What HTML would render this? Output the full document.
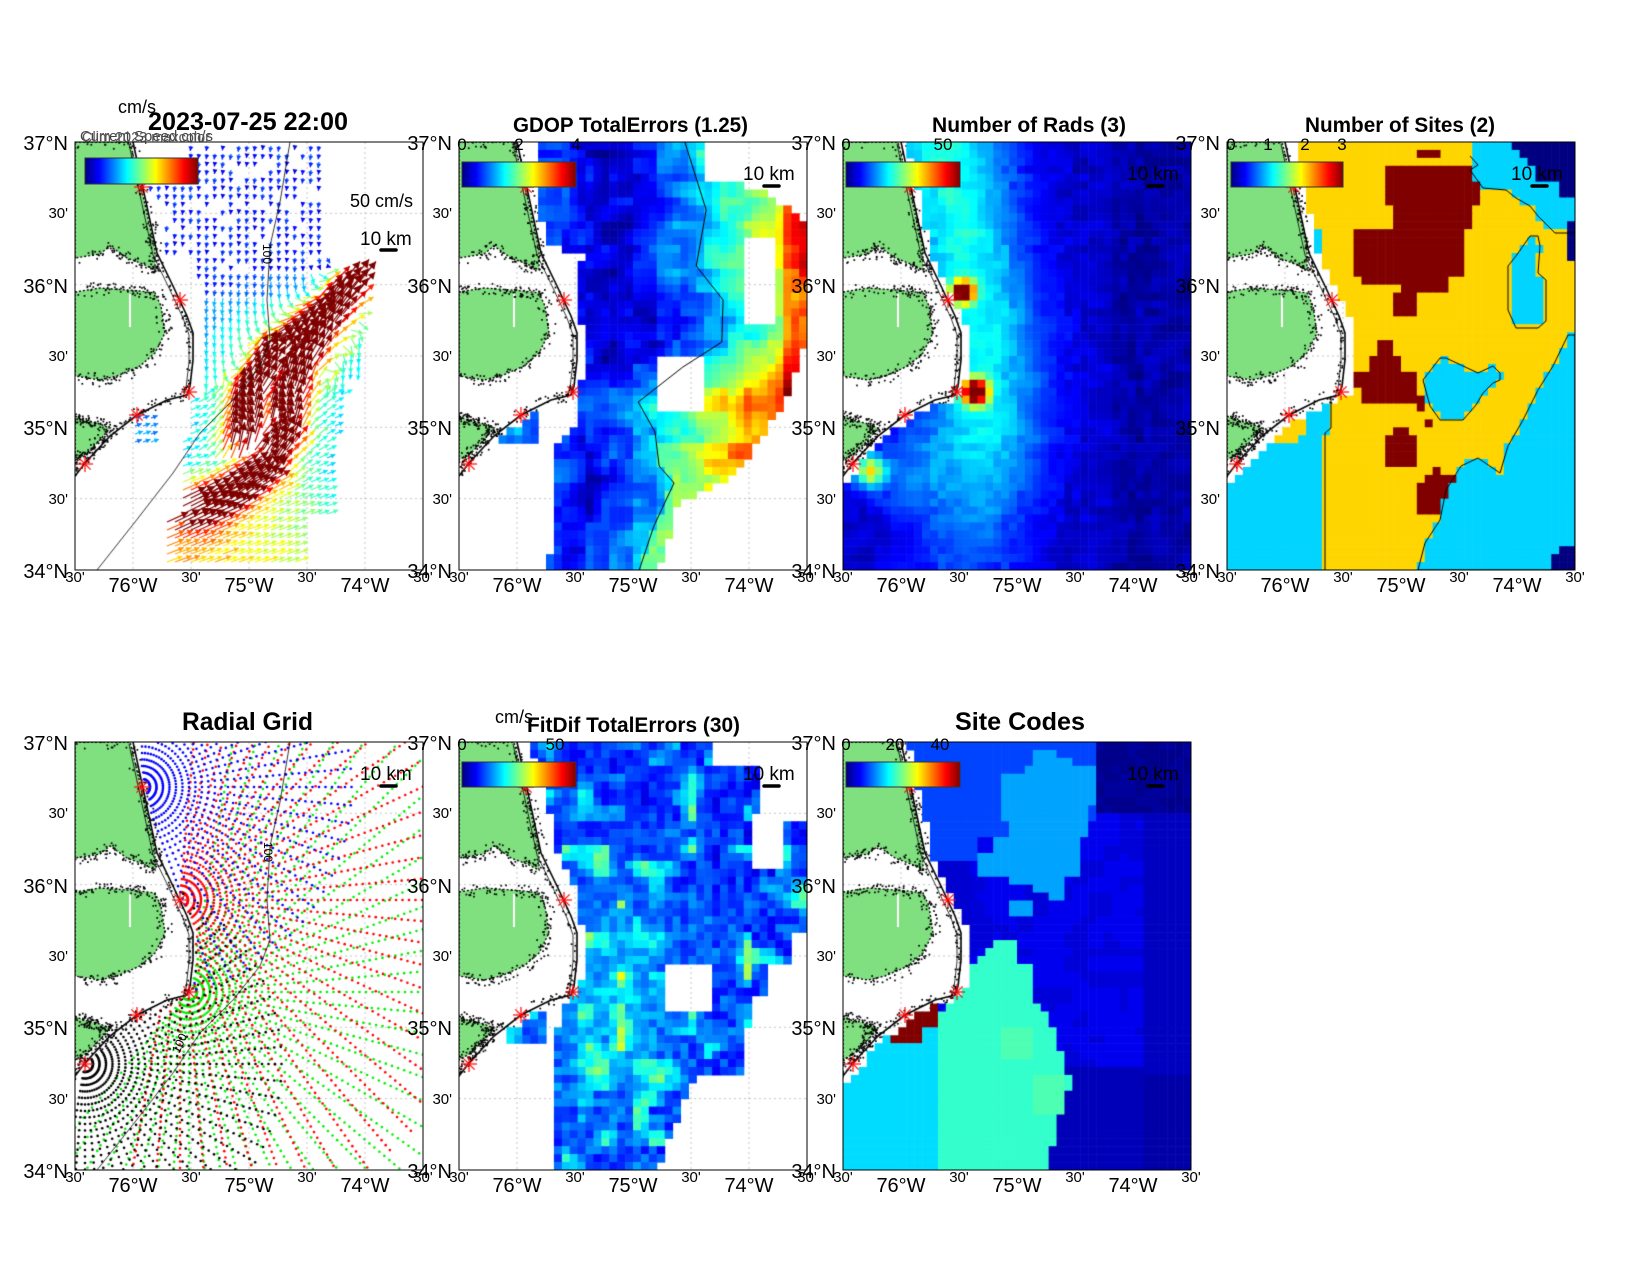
<!DOCTYPE html>
<html><head><meta charset="utf-8">
<style>
body{margin:0;background:#fff;width:1650px;height:1275px;overflow:hidden;position:relative}
canvas,svg{position:absolute;left:0;top:0}
text{font-family:"Liberation Sans",Arial,sans-serif;fill:#000}
.b{font-size:20px}
.s{font-size:15px}
.e{text-anchor:end}
.m{text-anchor:middle}
.t{font-weight:bold}
.cb{font-size:17px;text-anchor:middle}
</style></head><body>
<canvas id="c" width="1650" height="1275"></canvas>
<svg width="1650" height="1275" viewBox="0 0 1650 1275">
<defs>
<linearGradient id="jet" x1="0" x2="1" y1="0" y2="0">
<stop offset="0" stop-color="#000080"/><stop offset="0.125" stop-color="#0000ff"/><stop offset="0.375" stop-color="#00ffff"/><stop offset="0.625" stop-color="#ffff00"/><stop offset="0.875" stop-color="#ff0000"/><stop offset="1" stop-color="#800000"/>
</linearGradient>
</defs>

<g transform="translate(75,142)">
<rect x="0" y="0" width="348" height="428" fill="none" stroke="#000" stroke-width="1"/>
<rect x="10" y="16" width="113" height="26" fill="url(#jet)" stroke="#333" stroke-width="1"/>
<text x="-7" y="8" class="b e">37°N</text><text x="-7" y="76" class="s e">30'</text><text x="-7" y="151" class="b e">36°N</text><text x="-7" y="219" class="s e">30'</text><text x="-7" y="293" class="b e">35°N</text><text x="-7" y="362" class="s e">30'</text><text x="-7" y="436" class="b e">34°N</text>
<text x="0" y="440" class="s m">30'</text><text x="58" y="450" class="b m">76°W</text><text x="116" y="440" class="s m">30'</text><text x="174" y="450" class="b m">75°W</text><text x="232" y="440" class="s m">30'</text><text x="290" y="450" class="b m">74°W</text><text x="348" y="440" class="s m">30'</text>
<text x="275" y="65" font-size="18">50 cm/s</text>
<text x="285" y="103" font-size="19">10 km</text>
<line x1="306" y1="108" x2="321" y2="108" stroke="#000" stroke-width="3.5" stroke-linecap="round"/>
<text x="0" y="0" font-size="12" transform="translate(188,102) rotate(90)">100</text>
</g>
<text x="80" y="141" font-size="15" textLength="133" lengthAdjust="spacingAndGlyphs" style="fill:#444">Current Speed cm/s</text>
<text x="82" y="142" font-size="15" textLength="128" lengthAdjust="spacingAndGlyphs" style="fill:#555">Clim 2023 maxcolor</text>
<text x="118" y="113" font-size="18">cm/s</text>
<text x="148" y="130" font-size="25" class="t" textLength="200" lengthAdjust="spacingAndGlyphs">2023-07-25 22:00</text>

<g transform="translate(459,142)">
<rect x="0" y="0" width="348" height="428" fill="none" stroke="#000" stroke-width="1"/>
<rect x="3" y="20" width="114" height="25" fill="url(#jet)" stroke="#333" stroke-width="1"/>
<text x="3" y="8" class="cb">0</text><text x="60" y="8" class="cb">2</text><text x="117" y="8" class="cb">4</text>
<text x="-7" y="8" class="b e">37°N</text><text x="-7" y="76" class="s e">30'</text><text x="-7" y="151" class="b e">36°N</text><text x="-7" y="219" class="s e">30'</text><text x="-7" y="293" class="b e">35°N</text><text x="-7" y="362" class="s e">30'</text><text x="-7" y="436" class="b e">34°N</text>
<text x="0" y="440" class="s m">30'</text><text x="58" y="450" class="b m">76°W</text><text x="116" y="440" class="s m">30'</text><text x="174" y="450" class="b m">75°W</text><text x="232" y="440" class="s m">30'</text><text x="290" y="450" class="b m">74°W</text><text x="348" y="440" class="s m">30'</text>
<text x="284" y="38" font-size="19">10 km</text>
<line x1="305" y1="44" x2="320" y2="44" stroke="#000" stroke-width="3.5" stroke-linecap="round"/>
</g>
<text x="513" y="132" font-size="21" class="t" textLength="235" lengthAdjust="spacingAndGlyphs">GDOP TotalErrors (1.25)</text>

<g transform="translate(843,142)">
<rect x="0" y="0" width="348" height="428" fill="none" stroke="#000" stroke-width="1"/>
<rect x="3" y="20" width="114" height="25" fill="url(#jet)" stroke="#333" stroke-width="1"/>
<text x="3" y="8" class="cb">0</text><text x="100" y="8" class="cb">50</text>
<text x="-7" y="8" class="b e">37°N</text><text x="-7" y="76" class="s e">30'</text><text x="-7" y="151" class="b e">36°N</text><text x="-7" y="219" class="s e">30'</text><text x="-7" y="293" class="b e">35°N</text><text x="-7" y="362" class="s e">30'</text><text x="-7" y="436" class="b e">34°N</text>
<text x="0" y="440" class="s m">30'</text><text x="58" y="450" class="b m">76°W</text><text x="116" y="440" class="s m">30'</text><text x="174" y="450" class="b m">75°W</text><text x="232" y="440" class="s m">30'</text><text x="290" y="450" class="b m">74°W</text><text x="348" y="440" class="s m">30'</text>
<text x="284" y="38" font-size="19">10 km</text>
<line x1="305" y1="44" x2="320" y2="44" stroke="#000" stroke-width="3.5" stroke-linecap="round"/>
</g>
<text x="932" y="132" font-size="21" class="t" textLength="194" lengthAdjust="spacingAndGlyphs">Number of Rads (3)</text>

<g transform="translate(1227,142)">
<rect x="0" y="0" width="348" height="428" fill="none" stroke="#000" stroke-width="1"/>
<rect x="4" y="20" width="112" height="25" fill="url(#jet)" stroke="#333" stroke-width="1"/>
<text x="4" y="8" class="cb">0</text><text x="41" y="8" class="cb">1</text><text x="78" y="8" class="cb">2</text><text x="115" y="8" class="cb">3</text>
<text x="-7" y="8" class="b e">37°N</text><text x="-7" y="76" class="s e">30'</text><text x="-7" y="151" class="b e">36°N</text><text x="-7" y="219" class="s e">30'</text><text x="-7" y="293" class="b e">35°N</text><text x="-7" y="362" class="s e">30'</text><text x="-7" y="436" class="b e">34°N</text>
<text x="0" y="440" class="s m">30'</text><text x="58" y="450" class="b m">76°W</text><text x="116" y="440" class="s m">30'</text><text x="174" y="450" class="b m">75°W</text><text x="232" y="440" class="s m">30'</text><text x="290" y="450" class="b m">74°W</text><text x="348" y="440" class="s m">30'</text>
<text x="284" y="38" font-size="19">10 km</text>
<line x1="305" y1="44" x2="320" y2="44" stroke="#000" stroke-width="3.5" stroke-linecap="round"/>
</g>
<text x="1305" y="132" font-size="21" class="t" textLength="190" lengthAdjust="spacingAndGlyphs">Number of Sites (2)</text>

<g transform="translate(75,742)">
<rect x="0" y="0" width="348" height="428" fill="none" stroke="#000" stroke-width="1"/>
<text x="-7" y="8" class="b e">37°N</text><text x="-7" y="76" class="s e">30'</text><text x="-7" y="151" class="b e">36°N</text><text x="-7" y="219" class="s e">30'</text><text x="-7" y="293" class="b e">35°N</text><text x="-7" y="362" class="s e">30'</text><text x="-7" y="436" class="b e">34°N</text>
<text x="0" y="440" class="s m">30'</text><text x="58" y="450" class="b m">76°W</text><text x="116" y="440" class="s m">30'</text><text x="174" y="450" class="b m">75°W</text><text x="232" y="440" class="s m">30'</text><text x="290" y="450" class="b m">74°W</text><text x="348" y="440" class="s m">30'</text>
<text x="285" y="38" font-size="19">10 km</text>
<line x1="306" y1="44" x2="321" y2="44" stroke="#000" stroke-width="3.5" stroke-linecap="round"/>
<text x="0" y="0" font-size="12" transform="translate(189,100) rotate(90)">100</text>
<text x="0" y="0" font-size="12" transform="translate(104,312) rotate(-65)">100</text>
</g>
<text x="182" y="730" font-size="25" class="t" textLength="131" lengthAdjust="spacingAndGlyphs">Radial Grid</text>

<g transform="translate(459,742)">
<rect x="0" y="0" width="348" height="428" fill="none" stroke="#000" stroke-width="1"/>
<rect x="3" y="20" width="114" height="25" fill="url(#jet)" stroke="#333" stroke-width="1"/>
<text x="3" y="8" class="cb">0</text><text x="96" y="8" class="cb">50</text>
<text x="-7" y="8" class="b e">37°N</text><text x="-7" y="76" class="s e">30'</text><text x="-7" y="151" class="b e">36°N</text><text x="-7" y="219" class="s e">30'</text><text x="-7" y="293" class="b e">35°N</text><text x="-7" y="362" class="s e">30'</text><text x="-7" y="436" class="b e">34°N</text>
<text x="0" y="440" class="s m">30'</text><text x="58" y="450" class="b m">76°W</text><text x="116" y="440" class="s m">30'</text><text x="174" y="450" class="b m">75°W</text><text x="232" y="440" class="s m">30'</text><text x="290" y="450" class="b m">74°W</text><text x="348" y="440" class="s m">30'</text>
<text x="284" y="38" font-size="19">10 km</text>
<line x1="305" y1="44" x2="320" y2="44" stroke="#000" stroke-width="3.5" stroke-linecap="round"/>
</g>
<text x="495" y="723" font-size="18">cm/s</text>
<text x="527" y="732" font-size="21" class="t" textLength="213" lengthAdjust="spacingAndGlyphs">FitDif TotalErrors (30)</text>

<g transform="translate(843,742)">
<rect x="0" y="0" width="348" height="428" fill="none" stroke="#000" stroke-width="1"/>
<rect x="3" y="20" width="114" height="25" fill="url(#jet)" stroke="#333" stroke-width="1"/>
<text x="3" y="8" class="cb">0</text><text x="52" y="8" class="cb">20</text><text x="97" y="8" class="cb">40</text>
<text x="-7" y="8" class="b e">37°N</text><text x="-7" y="76" class="s e">30'</text><text x="-7" y="151" class="b e">36°N</text><text x="-7" y="219" class="s e">30'</text><text x="-7" y="293" class="b e">35°N</text><text x="-7" y="362" class="s e">30'</text><text x="-7" y="436" class="b e">34°N</text>
<text x="0" y="440" class="s m">30'</text><text x="58" y="450" class="b m">76°W</text><text x="116" y="440" class="s m">30'</text><text x="174" y="450" class="b m">75°W</text><text x="232" y="440" class="s m">30'</text><text x="290" y="450" class="b m">74°W</text><text x="348" y="440" class="s m">30'</text>
<text x="284" y="38" font-size="19">10 km</text>
<line x1="305" y1="44" x2="320" y2="44" stroke="#000" stroke-width="3.5" stroke-linecap="round"/>
</g>
<text x="955" y="730" font-size="25" class="t" textLength="130" lengthAdjust="spacingAndGlyphs">Site Codes</text>
</svg>

<script>
const cv=document.getElementById('c'),ctx=cv.getContext('2d');
const W=348,H=428;
function rng(seed){return function(){seed|=0;seed=seed+0x6D2B79F5|0;let t=Math.imul(seed^seed>>>15,1|seed);t=t+Math.imul(t^t>>>7,61|t)^t;return((t^t>>>14)>>>0)/4294967296}}
function hash(i,j,s){let h=Math.sin(i*127.1+j*311.7+s*74.7)*43758.5453;return h-Math.floor(h)}
function noise(x,y,s){const i=Math.floor(x),j=Math.floor(y),fx=x-i,fy=y-j;const u=fx*fx*(3-2*fx),v=fy*fy*(3-2*fy);const a=hash(i,j,s),b=hash(i+1,j,s),c=hash(i,j+1,s),d=hash(i+1,j+1,s);return a+(b-a)*u+(c-a)*v+(a-b-c+d)*u*v}
function jet(t){t=Math.max(0,Math.min(1,t));const f=v=>Math.round(255*Math.max(0,Math.min(1,v)));return `rgb(${f(1.5-Math.abs(4*t-3))},${f(1.5-Math.abs(4*t-2))},${f(1.5-Math.abs(4*t-1))})`}
function interp(xs,ys,x){if(x<=xs[0])return ys[0];for(let i=1;i<xs.length;i++){if(x<=xs[i]){const d=xs[i]-xs[i-1];const t=d?(x-xs[i-1])/d:1;return ys[i-1]+t*(ys[i]-ys[i-1])}}return ys[ys.length-1]}
function pip(p,x,y){let c=false;for(let i=0,j=p.length-1;i<p.length;j=i++){const xi=p[i][0],yi=p[i][1],xj=p[j][0],yj=p[j][1];if(((yi>y)!=(yj>y))&&(x<(xj-xi)*(y-yi)/(yj-yi)+xi))c=!c;}return c}
function inRects(rs,x,y){return rs.some(r=>x>=r[0]&&x<r[0]+r[2]&&y>=r[1]&&y<r[1]+r[3])}
function poly(pts){ctx.beginPath();pts.forEach((p,i)=>i?ctx.lineTo(p[0],p[1]):ctx.moveTo(p[0],p[1]));ctx.closePath();}
function pline(pts){ctx.beginPath();pts.forEach((p,i)=>i?ctx.lineTo(p[0],p[1]):ctx.moveTo(p[0],p[1]));}

const coastN=[[58,0],[82,111],[98,144],[112,174],[118,191],[118,218],[115,244],[112,253]];
const coastS=[[112,253],[92,258],[62,273],[35,294],[10,321],[0,334]];
const cNy=coastN.map(p=>p[1]),cNx=coastN.map(p=>p[0]);
const cSr=coastS.slice().reverse(),cSx=cSr.map(p=>p[0]),cSy=cSr.map(p=>p[1]);
function isSea(x,y){if(y<253)return x>interp(cNy,cNx,y)+1;if(x>=112)return true;return y>interp(cSx,cSy,x)+1}
function off(x,y){return isSea(x-6,y-2)}

const landN=[[0,0],[55,0],[66,45],[74,80],[80,108],[80,128],[68,122],[52,116],[35,104],[25,112],[0,116]];
const landM=[[0,150],[25,146],[52,148],[65,149],[80,151],[86,164],[90,191],[80,211],[65,224],[42,234],[25,238],[0,234]];
const landS=[[0,274],[8,278],[22,281],[35,286],[25,298],[12,311],[0,318]];
const sites=[[67,45],[105,158],[114,250],[62,273],[10,322]];
const bathy=[[215,0],[205,60],[195,104],[192,158],[195,198],[185,224],[158,258],[125,291],[98,331],[60,380],[22,428]];

function grid(){ctx.strokeStyle='#c4c4c4';ctx.lineWidth=1;ctx.setLineDash([2,3]);for(let k=1;k<6;k++){ctx.beginPath();ctx.moveTo(58*k,0);ctx.lineTo(58*k,H);ctx.stroke();ctx.beginPath();ctx.moveTo(0,H/6*k);ctx.lineTo(W,H/6*k);ctx.stroke();}ctx.setLineDash([]);}
function land(seed){
 ctx.fillStyle='rgb(128,224,128)';[landN,landM,landS].forEach(p=>{poly(p);ctx.fill();});
 ctx.strokeStyle='#000';ctx.lineWidth=1.4;ctx.setLineDash([2,2]);[landN,landM,landS].forEach(p=>{poly(p);ctx.stroke();});ctx.setLineDash([]);
 ctx.strokeStyle='#fff';ctx.lineWidth=2;pline([[55,152],[55,185]]);ctx.stroke();
 const r=rng(seed);ctx.fillStyle='#000';
 [landN,landM,landS,coastN,coastS].forEach((p,pi)=>{const n=pi<3?160:70;for(let k=0;k<n;k++){const i=Math.floor(r()*(p.length-1));const a=p[i],b=p[i+1],t=r();const x=a[0]+(b[0]-a[0])*t+(r()-0.5)*(pi<3?14:6)-(pi>=3?4:0),y=a[1]+(b[1]-a[1])*t+(r()-0.5)*12;ctx.fillRect(x,y,1.7,1.7);}});
}
function coast(){ctx.strokeStyle='#000';ctx.lineWidth=1.6;pline(coastN.concat(coastS.slice(1)));ctx.stroke();
 ctx.lineWidth=0.8;pline(coastN.map(p=>[p[0]-4,p[1]+2]));ctx.stroke();}
function stars(){ctx.strokeStyle='#ff0000';ctx.lineWidth=1.2;sites.forEach(([x,y])=>{for(let a=0;a<4;a++){const an=a*Math.PI/4;ctx.beginPath();ctx.moveTo(x-8*Math.cos(an),y-8*Math.sin(an));ctx.lineTo(x+8*Math.cos(an),y+8*Math.sin(an));ctx.stroke();}});}
function bath(){ctx.strokeStyle='#000';ctx.lineWidth=0.8;pline(bathy);ctx.stroke();}
const CW=W/44,CH=H/54;
function heat(fn){for(let j=0;j<54;j++)for(let i=0;i<44;i++){const x=i*CW,y=j*CH;const c=fn(x+CW/2,y+CH/2);if(c){ctx.fillStyle=c;ctx.fillRect(x,y,CW+0.6,CH+0.6);}}}
function panel(ox,oy,f){ctx.save();ctx.translate(ox,oy);ctx.beginPath();ctx.rect(0,0,W,H);ctx.clip();f();ctx.restore();}

function arrow(x,y,dx,dy,L,col){const ex=x+dx*L,ey=y+dy*L;const hl=Math.max(4.5,L*0.28),hw=hl*0.55;ctx.strokeStyle=col;ctx.fillStyle=col;ctx.lineWidth=1.2;ctx.beginPath();ctx.moveTo(x,y);ctx.lineTo(ex,ey);ctx.stroke();const bx=ex-dx*hl,by=ey-dy*hl;ctx.beginPath();ctx.moveTo(ex,ey);ctx.lineTo(bx-dy*hw,by+dx*hw);ctx.lineTo(bx+dy*hw,by-dx*hw);ctx.closePath();ctx.fill();}
const gs=[[110,372],[150,352],[185,328],[205,295],[210,260],[222,222],[240,190],[260,160],[280,135]];
const gs2=[[165,300],[172,255],[195,215],[238,178]];
function near(pts,x,y){let best={d:1e9,tx:0,ty:-1};for(let i=0;i<pts.length-1;i++){const[ax,ay]=pts[i],[bx,by]=pts[i+1];const vx=bx-ax,vy=by-ay,l2=vx*vx+vy*vy;let t=((x-ax)*vx+(y-ay)*vy)/l2;t=Math.max(0,Math.min(1,t));const d=Math.hypot(x-ax-t*vx,y-ay-t*vy);if(d<best.d){const l=Math.sqrt(l2);best={d,tx:vx/l,ty:vy/l}}}return best}
function qmask(x,y){
 if(x>52&&x<80&&y>274&&y<301)return true;
 let l,r;
 if(y<60){l=72+(y<30?40:0);r=245}else if(y<110){l=90;r=248}else if(y<140){l=120;r=255}else if(y<260){l=125;r=(y<230?292:275)}else if(y<300){l=110;r=265}else if(y<380){l=100;r=258}else{l=88;r=225}
 return x>l&&x<r&&off(x,y);
}
function drawQuiver(){
 const arr=[];const r=rng(3);
 for(let y=4;y<H;y+=8)for(let x=4;x<W;x+=8){if(!qmask(x,y))continue;
  if(y<130&&r()<0.2)continue;
  const a=near(gs,x,y),b=near(gs2,x,y);const g=a.d<b.d?a:b;const d=g.d;
  let s=14+75*Math.exp(-d*d/(2*13*13))+25*Math.exp(-d*d/(2*40*40))+(r()-0.5)*8;
  if(y>150&&y<=330)s+=8;
  if(y>330)s+=10+30*(y-330)/100;
  if(y<130)s=8+r()*10;
  const w=Math.exp(-d*d/(2*25*25));let bx,by;
  if(y<250){bx=-0.15;by=1}else{bx=1;by=-0.35}
  let dx=w*g.tx+(1-w)*bx,dy=w*g.ty+(1-w)*by;const n=Math.hypot(dx,dy);dx/=n;dy/=n;
  arr.push([x,y,dx,dy,s]);}
 arr.sort((a,b)=>a[4]-b[4]);
 arr.forEach(([x,y,dx,dy,s])=>arrow(x,y,dx,dy,2+s*0.24,jet(s/90)));
 arrow(255,240,0.55,-0.83,14,jet(0.6));
}
panel(75,142,()=>{grid();land(11);drawQuiver();coast();bath();stars();});

const gcy=[0,68,124,158,200,225,260,290,324,341,384,428],gcx=[228,245,235,268,265,225,180,195,198,215,195,182];
function gdop(x,y){if(!off(x,y))return null;
 const l=interp([0,100,115,125,280,300,428],[75,85,125,118,118,97,90],y);
 const r=interp([0,40,45,80,200,250,300,330,360,428],[243,243,300,345,345,330,300,280,220,200],y);
 let ok=x>l&&x<r;if(x>42&&x<82&&y>270&&y<300)ok=true;
 if(x>198&&x<248&&y>215&&y<270)ok=false;if(x>288&&x<318&&y>98&&y<185)ok=false;
 if(!ok)return null;
 const cx=interp(gcy,gcx,y);let v=x>cx?1.3+(x-cx)*0.015:1.25-(cx-x)*0.012;v=Math.max(v,0.35);
 if(x<140)v+=0.35*(140-x)/40;
 if(y>300&&x>cx)v+=0.5;
 if(x>325)v+=0.6;
 v+=(noise(x/12,y/12,1)-0.5)*0.7;
 return jet(v/4);}
panel(459,142,()=>{grid();land(12);heat(gdop);ctx.strokeStyle='#000';ctx.lineWidth=1;pline(gcy.map((y,i)=>[gcx[i]+(noise(i,1,4)-0.5)*8,y]));ctx.stroke();coast();stars();});

function rads(x,y){if(!off(x,y))return null;
 const bx=interp([0,200,300,428],[100,140,140,125],y);const A=interp([0,300,428],[20,17,7],y);
 let v=4+A*Math.exp(-((x-bx)**2)/(2*45*45));
 v+=52*Math.exp(-((x-120)**2+(y-150)**2)/(2*8*8))+55*Math.exp(-((x-132)**2+(y-250)**2)/(2*9*9))+30*Math.exp(-((x-27)**2+(y-330)**2)/(2*11*11));
 v+=6*Math.exp(-((x-60)**2+(y-330)**2)/(2*30*30));
 v+=(noise(x/9,y/9,2)-0.5)*5;if(x>270)v-=1.5;
 return jet(v/59);}
panel(843,142,()=>{grid();land(13);heat(rads);coast();stars();});

const R3=[[189,7,25,10],[159,23,92,38],[166,61,77,30],[129,91,107,40],[136,131,83,15],[174,146,45,8],[168,154,22,24],
[151,201,16,15],[143,216,30,10],[129,226,60,20],[136,246,53,12],[144,256,30,8],[189,254,7,17],[196,278,8,8],
[167,286,15,8],[159,294,30,30],[205,324,10,8],[197,332,31,8],[189,340,31,29]];
const C1=[[89,254],[104,254],[104,286],[98,291],[98,428],[0,428],[0,338],[23,314],[38,301],[69,301],[76,291],[83,286],[83,269],[89,269]];
const C2=[[348,193],[341,193],[326,224],[311,248],[296,278],[281,304],[273,331],[251,316],[234,324],[219,348],[213,378],[198,401],[191,428],[348,428]];
const C3=[[196,238],[213,216],[219,216],[251,231],[266,224],[273,231],[273,238],[266,241],[256,251],[249,263],[236,278],[213,278],[203,264]];
const C4=[[289,114],[303,94],[311,94],[313,104],[311,131],[319,138],[319,179],[311,186],[289,186],[281,168],[281,124]];
const C5=[[243,0],[348,0],[348,91],[328,91],[311,74],[303,64],[289,56],[279,48],[256,46],[243,28],[251,23],[243,14]];
const NV=[[281,0],[348,0],[348,55],[336,55],[327,40],[311,40],[311,25],[295,15],[281,8]];
function sitesF(x,y){if(!isSea(x-9,y-2))return null;
 if(pip(NV,x,y)||inRects([[343,78,5,40],[336,401,12,27],[324,416,12,12]],x,y))return jet(0);
 if([C1,C2,C3,C4,C5].some(p=>pip(p,x,y))||inRects([[83,84,15,47],[119,188,9,36]],x,y))return jet(1/3);
 if(inRects(R3,x,y))return jet(1);
 return jet(2/3);}
panel(1227,142,()=>{grid();land(14);heat(sitesF);ctx.strokeStyle='#000';ctx.lineWidth=1;[C2,C3,C4].forEach(p=>{poly(p);ctx.stroke();});
 pline([[104,254],[104,286],[98,291],[98,428]]);ctx.stroke();pline([[243,14],[251,23],[243,28],[256,46],[279,48],[289,56],[303,64],[311,74],[328,91],[348,91]]);ctx.stroke();
 coast();stars();});

function radial(){
 const rs=[{c:[114,250],col:'#00ee00',a0:-80,a1:130,rmax:340},{c:[105,158],col:'#ff0000',a0:-85,a1:100,rmax:330},{c:[67,45],col:'#0000ff',a0:-90,a1:95,rmax:210},{c:[10,322],col:'#000',a0:-70,a1:100,rmax:200}];
 rs.forEach(s=>{ctx.fillStyle=s.col;for(let r=8;r<s.rmax;r+=6.5){for(let a=s.a0;a<=s.a1;a+=5){const an=a*Math.PI/180;const x=s.c[0]+r*Math.cos(an),y=s.c[1]+r*Math.sin(an);if(x<0||x>W||y<0||y>H)continue;if(!isSea(x-2,y))continue;ctx.beginPath();ctx.arc(x,y,1.3,0,6.283);ctx.fill();}}});
}
panel(75,742,()=>{grid();land(15);radial();coast();bath();stars();});

function fit(x,y){if(!off(x,y))return null;
 const l=interp([0,25,110,150,260,290,380,428],[68,81,98,121,106,98,91,91],y);
 const r=interp([0,25,26,75,76,191,192,220,221,255,256,285,286,331,332,370,428],[251,251,301,301,348,348,336,336,311,311,296,296,281,281,236,221,198],y);
 let ok=x>l&&x<r;if(x>46&&x<88&&y>265&&y<300)ok=true;
 if(x>206&&x<251&&y>218&&y<271)ok=false;if(x>291&&x<321&&y>75&&y<125)ok=false;
 if(!ok)return null;
 let v=6+10*noise(x/8,y/8,5)+22*Math.max(0,noise(x/18,y/18,3)-0.58)*2;
 v+=8*Math.exp(-((x-150)**2)/(2*50*50)-((y-250)**2)/(2*80*80));
 if(y<150)v-=1.5;
 return jet(v/60);}
panel(459,742,()=>{grid();land(16);heat(fit);coast();stars();});

const LB=[[192,8],[217,8],[217,15],[232,15],[232,23],[254,23],[254,61],[247,61],[242,91],[237,98],[237,131],[222,131],[222,155],[207,155],[207,148],[192,148],[192,141],[170,141],[170,131],[132,131],[132,110],[147,110],[147,95],[170,95],[170,78],[162,78],[162,31],[180,31],[192,23]];
const AQ=[[155,201],[170,201],[177,218],[192,231],[192,255],[207,278],[222,325],[229,341],[217,375],[202,428],[95,428],[95,290],[102,255],[122,231],[132,218]];
const DR=[[92,258],[92,285],[80,288],[80,300],[49,300],[55,290],[62,280],[75,272],[85,262]];
const MB=[[60,0],[252,0],[252,75],[240,90],[132,95],[132,115],[100,118],[70,118]];
function codes(x,y){if(!isSea(x-7,y-2))return null;
 if(pip(DR,x,y))return '#800000';
 if(pip(AQ,x,y)){if(inRects([[162,285,30,36],[192,335,30,36]],x,y))return '#4dffb3';return '#33ffcc';}
 if(x<97&&y>250)return '#00dcff';
 if(pip(LB,x,y)||inRects([[170,155,22,23]],x,y))return '#00a4ff';
 if(x>252&&y<75)return (noise(x/12,y/12,9)>0.5)?'#00008c':'#00009c';
 if(pip(MB,x,y))return '#0044ff';
 if(x>300)return (y>330?'#0000a8':'#0000c0');
 if(x>205&&y>325)return '#0000b8';
 if(x<125&&y<200)return '#0000d0';
 return noise(x/14,y/14,8)>0.6?'#0000d8':'#0000ee';}
panel(843,742,()=>{grid();land(17);heat(codes);coast();stars();});
</script>
</body></html>
